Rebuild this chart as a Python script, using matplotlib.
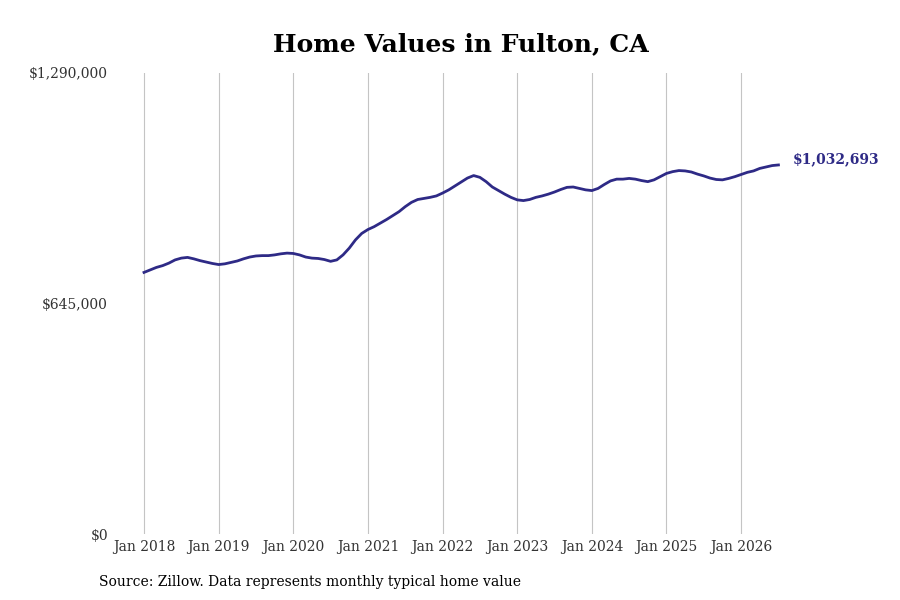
import numpy as np
import matplotlib.pyplot as plt
from matplotlib.ticker import FuncFormatter

# monthly typical home value, Jan 2018 .. Jul 2026 (in $k)
values_k = [
    732, 739, 746, 751, 758, 767, 772, 774, 770, 765, 761, 757,      # 2018
    754, 756, 760, 764, 770, 775, 778, 779, 779, 781, 784, 786,      # 2019
    785, 781, 775, 772, 771, 768, 763, 767, 781, 800, 823, 841,      # 2020
    852, 860, 870, 880, 891, 902, 916, 928, 936, 939, 942, 946,      # 2021
    954, 963, 974, 985, 996, 1003, 998, 986, 971, 961, 951, 942,     # 2022
    935, 933, 936, 942, 946, 951, 957, 964, 970, 971, 967, 963,      # 2023
    961, 967, 978, 988, 993, 993, 995, 993, 989, 986, 991, 1000,     # 2024
    1009, 1014, 1017, 1016, 1013, 1007, 1002, 996, 992, 991, 995, 1000,  # 2025
    1006, 1012, 1016, 1023, 1027, 1031,                              # 2026
]
values = [v * 1000 for v in values_k] + [1032693]
years = list(range(2018, 2027))
tick_labels = ['Jan %d' % y for y in years]
y_ticks = [0, 645000, 1290000]

line_color = '#2e2a86'
plt.rcParams['font.family'] = 'DejaVu Serif'

fig = plt.figure(figsize=(9, 6), dpi=100)
ax = fig.add_axes([117/900, 66/600, (805-117)/900, (534-73)/600])

months = np.arange(len(values))
ax.plot(months, values, color=line_color, lw=2)

ax.set_xlim(-27/6.22, (805-144)/6.22)
ax.set_ylim(0, 1290000)
ax.set_xticks([12*i for i in range(len(years))])
ax.set_xticklabels(tick_labels, fontsize=10, color='#333333')
ax.set_yticks(y_ticks)
ax.yaxis.set_major_formatter(FuncFormatter(lambda v, p: '${:,.0f}'.format(v)))
ax.tick_params(axis='y', length=0, pad=6.5, labelsize=10, labelcolor='#333333')
ax.tick_params(axis='x', length=0, pad=4)
for s in ax.spines.values():
    s.set_visible(False)
ax.grid(axis='x', color='#c4c4c4', lw=0.8)
ax.grid(axis='y', visible=False)

ax.annotate('${:,}'.format(values[-1]), (months[-1], values[-1]),
            xytext=(10, 4), textcoords='offset points', va='center',
            fontsize=10, fontweight='bold', color=line_color)

fig.text(461/900, 1-44/600, 'Home Values in Fulton, CA', ha='center', va='center',
         fontsize=18, fontweight='bold')
fig.text(99/900, 1-582/600, 'Source: Zillow. Data represents monthly typical home value',
         ha='left', va='center', fontsize=10)

fig.savefig('out.png', dpi=100)
